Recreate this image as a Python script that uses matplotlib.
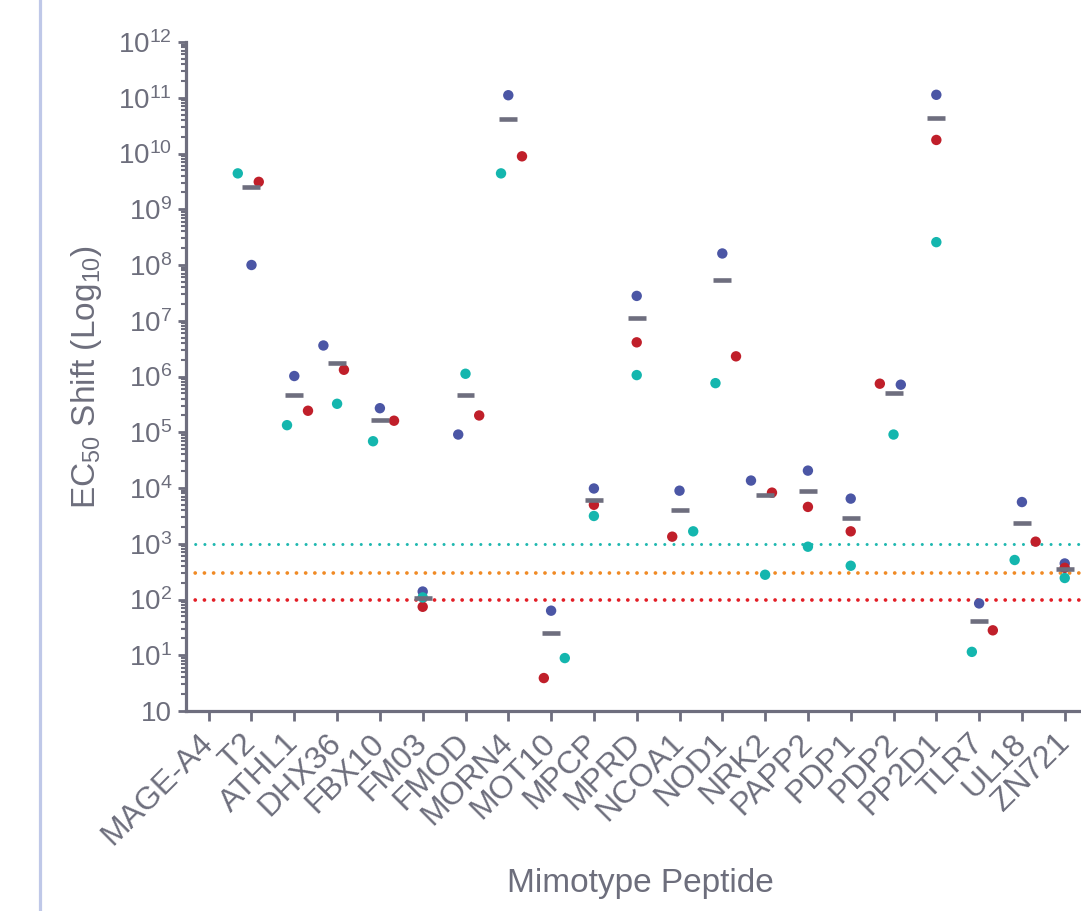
import numpy as np
import matplotlib
matplotlib.use('Agg')
import matplotlib.pyplot as plt
from matplotlib.lines import Line2D
from matplotlib.ticker import FixedLocator, LogLocator, NullFormatter

# === Data ===
peptides = ['MAGE-A4', 'T2', 'ATHL1', 'DHX36', 'FBX10', 'FM03', 'FMOD', 'MORN4',
            'MOT10', 'MPCP', 'MPRD', 'NCOA1', 'NOD1', 'NRK2', 'PAPP2', 'PDP1',
            'PDP2', 'PP2D1', 'TLR7', 'UL18', 'ZN721']
nan = np.nan
blue_vals = [nan, 1.0e8, 1.02e6, 3.6e6, 2.7e5, 139, 9.1e4, 1.11e11, 63, 9800,
             2.79e7, 8950, 1.61e8, 13600, 20500, 6450, 7.13e5, 1.13e11, 85, 5600, 443]
red_vals = [nan, 3.1e9, 2.43e5, 1.32e6, 1.61e5, 74, 2.0e5, 8.9e9, 3.9, 5000,
            4.1e6, 1340, 2.3e6, 8260, 4580, 1670, 7.43e5, 1.75e10, 28, 1090, 370]
teal_vals = [nan, 4.4e9, 1.34e5, 3.24e5, 6.9e4, 109, 1.12e6, 4.4e9, 8.9, 3150,
             1.06e6, 1670, 7.6e5, 278, 885, 403, 9.1e4, 2.57e8, 11.5, 511, 243]
thresholds = [1000, 300, 100]

# === Layout / style ===
# horizontal spread of overlapping dots (fraction of category width)
blue_off = [0, 0, 0, -0.32, 0, 0, -0.17, 0, 0, 0, 0, 0, 0, -0.33, 0, 0, 0.17, 0, 0, 0, 0]
red_off = [0, 0.17, 0.32, 0.16, 0.33, 0, 0.32, 0.32, -0.17, 0, 0, -0.17, 0.32, 0.16, 0, 0,
           -0.32, 0, 0.32, 0.32, 0]
teal_off = [0, -0.32, -0.17, 0, -0.16, 0, 0, -0.17, 0.32, 0, 0, 0.32, -0.16, 0, 0, 0, 0, 0,
            -0.17, -0.17, 0]

TEXT = '#6d6e7c'
AXIS = '#6e6e7e'
BLUE = '#4b56a5'
RED = '#c01f2a'
TEAL = '#14b6ae'
LINE_COLORS = ['#1fb8b0', '#f08a24', '#e31e26']
LINE_WIDTHS = [2.2, 2.7, 2.7]

plt.rcParams['font.family'] = ['Liberation Sans', 'DejaVu Sans']
plt.rcParams['mathtext.fontset'] = 'custom'
plt.rcParams['mathtext.rm'] = 'Liberation Sans'
plt.rcParams['mathtext.it'] = 'Liberation Sans:italic'
plt.rcParams['mathtext.bf'] = 'Liberation Sans:bold'

W, H = 1081, 911
fig = plt.figure(figsize=(W / 100, H / 100), dpi=100)
fig.patch.set_facecolor('white')
ax = fig.add_axes([186 / W, 200 / H, (W - 186) / W, (711 - 42) / H])

# decorative page border on the left
fig.add_artist(Line2D([40 / W, 40 / W], [0, 1], color='#bfc8e8', lw=2.3,
                      transform=fig.transFigure))

x = np.arange(len(peptides))

# threshold lines
for val, col, lw in zip(thresholds, LINE_COLORS, LINE_WIDTHS):
    period = 6.6 / lw
    ax.axhline(val, color=col, lw=lw, linestyle=(0, (0.01, period)),
               dash_capstyle='round', zorder=1)

# dots
for vals, offs, col in [(blue_vals, blue_off, BLUE), (red_vals, red_off, RED),
                        (teal_vals, teal_off, TEAL)]:
    ax.scatter(x + np.array(offs), vals, s=56, color=col, edgecolors='none', zorder=3)

# mean bars
means = np.nanmean(np.array([blue_vals, red_vals, teal_vals], dtype=float), axis=0)
for xi, m in zip(x, means):
    if np.isnan(m):
        continue
    ax.plot([xi - 0.21, xi + 0.21], [m, m], color=AXIS, lw=3.3,
            solid_capstyle='butt', zorder=4)

# axes
ax.set_yscale('log')
ax.set_ylim(1, 1e12)
ax.set_xlim(-0.53, 20.38)

decades = list(range(0, 13))
ax.yaxis.set_major_locator(FixedLocator([10.0 ** d for d in decades]))
ax.yaxis.set_minor_locator(LogLocator(base=10, subs=np.arange(2, 10), numticks=200))
ax.yaxis.set_minor_formatter(NullFormatter())
ylabels = ['10'] + [r'$\mathregular{10^{%d}}$' % d for d in decades[1:]]
ax.set_yticklabels(ylabels)

ax.set_xticks(x)
ax.set_xticklabels(peptides, rotation=45, ha='right', va='center',
                   rotation_mode='anchor')

for side in ['top', 'right']:
    ax.spines[side].set_visible(False)
for side in ['left', 'bottom']:
    ax.spines[side].set_color(AXIS)
    ax.spines[side].set_linewidth(2.3)

ax.tick_params(axis='y', which='major', length=6, width=2, color=AXIS,
               labelcolor=TEXT, labelsize=20, pad=4)
ax.tick_params(axis='y', which='minor', length=3.5, width=1.5, color=AXIS)
ax.tick_params(axis='x', which='major', length=7, width=2, color=AXIS,
               labelcolor=TEXT, labelsize=23, pad=13)

ax.set_ylabel(r'EC$_{50}$ Shift (Log$_{10}$)', fontsize=24, color=TEXT, labelpad=10)
ax.set_xlabel('Mimotype Peptide', fontsize=24, color=TEXT)
ax.xaxis.set_label_coords(0.508, -0.235)

fig.savefig('out.png', dpi=100, facecolor='white')
